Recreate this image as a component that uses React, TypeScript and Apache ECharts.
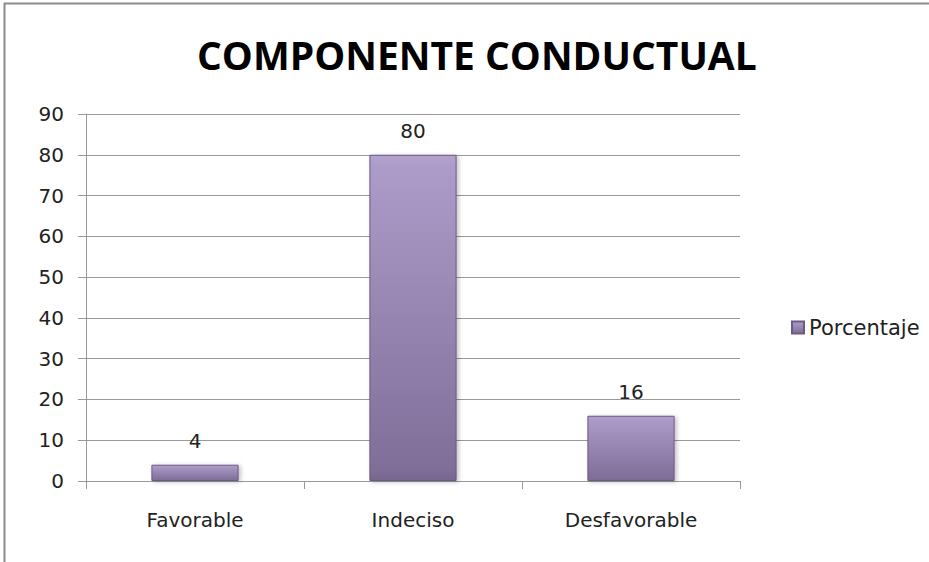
import React, { useEffect, useRef } from "react";
import * as echarts from "echarts";

const categories = ["Favorable", "Indeciso", "Desfavorable"];
const porcentaje = [4, 80, 16];
const seriesName = "Porcentaje";
const titleText = "COMPONENTE CONDUCTUAL";

export default function App() {
  const ref = useRef<HTMLDivElement>(null);
  useEffect(() => {
    document.body.style.margin = "0";
    const chart = echarts.init(ref.current!, null, { renderer: "svg" });
    const barColor = new echarts.graphic.LinearGradient(0, 0, 0, 1, [
      { offset: 0, color: "#b3a3ce" },
      { offset: 0.03, color: "#ad9cc9" },
      { offset: 0.97, color: "#7f6e98" },
      { offset: 1, color: "#76668e" },
    ]);
    const font = "'DejaVu Sans', sans-serif";
    chart.setOption({
      animation: false,
      backgroundColor: "#ffffff",
      title: {
        text: titleText,
        left: 192,
        top: 30,
        textStyle: {
          fontFamily: "'Open Sans', sans-serif",
          fontWeight: "bold",
          fontSize: 39,
          color: "#000",
        },
      },
      legend: {
        data: [seriesName],
        left: 786,
        top: 312,
        itemWidth: 12,
        itemHeight: 12,
        icon: "rect",
        textStyle: {
          fontFamily: font,
          fontSize: 21,
          color: "#222",
        },
      },
      grid: { left: 86, right: 189, top: 114, bottom: 81, containLabel: false },
      xAxis: {
        type: "category",
        data: categories,
        axisLine: { lineStyle: { color: "#999", width: 1 } },
        axisTick: { show: true, length: 8, lineStyle: { color: "#999" } },
        axisLabel: {
          margin: 29,
          fontFamily: font,
          fontSize: 20,
          color: "#222",
        },
      },
      yAxis: {
        type: "value",
        min: 0,
        max: 90,
        interval: 10,
        axisLine: { show: true, lineStyle: { color: "#999", width: 1 } },
        axisTick: { show: true, length: 8, lineStyle: { color: "#999" } },
        splitLine: { show: true, lineStyle: { color: "#999", width: 1 } },
        axisLabel: {
          margin: 22,
          fontFamily: font,
          fontSize: 20,
          color: "#222",
        },
      },
      series: [
        {
          name: seriesName,
          type: "bar",
          data: porcentaje,
          barWidth: "40%",
          itemStyle: {
            color: barColor,
            borderColor: "#6a5b82",
            borderWidth: 1,
            shadowColor: "rgba(0,0,0,0.25)",
            shadowBlur: 4,
            shadowOffsetX: 2,
            shadowOffsetY: 1,
          },
          label: {
            show: true,
            position: "top",
            distance: 14,
            fontFamily: font,
            fontSize: 20,
            color: "#222",
          },
        },
      ],
      graphic: [
        { type: "line", shape: { x1: 4, y1: 3.5, x2: 929, y2: 3.5 }, style: { stroke: "#8a8a8a", lineWidth: 2 } },
        { type: "line", shape: { x1: 4.5, y1: 3, x2: 4.5, y2: 562 }, style: { stroke: "#8a8a8a", lineWidth: 2 } },
      ],
    });
    return () => chart.dispose();
  }, []);
  return <div ref={ref} style={{ position: "absolute", left: 0, top: 0, width: 929, height: 562 }} />;
}
